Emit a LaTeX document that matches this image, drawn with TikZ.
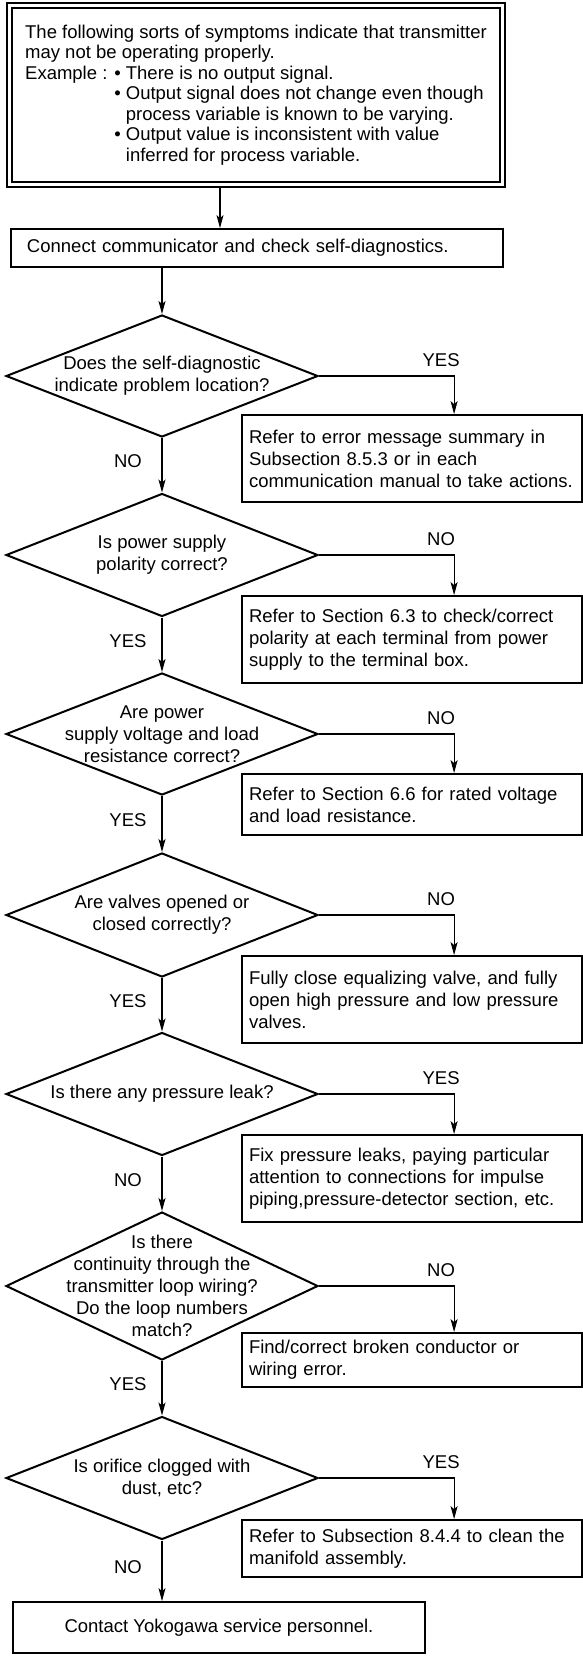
\documentclass[tikz,border=0pt]{standalone}
\usepackage{fontspec}
\setmainfont{Liberation Sans}
\usepackage{tikz}
\usetikzlibrary{arrows.meta,shapes.geometric}

\begin{document}
\begin{tikzpicture}[
  x=1pt, y=-1pt,
  font=\fontsize{18.5}{22}\selectfont,
  diabox/.style={draw, diamond, line width=2pt, minimum width=312pt, minimum height=#1, inner sep=0pt},
  diatext/.style={align=center, inner sep=0pt},
  actbox/.style={draw, line width=1.8pt, text width=326pt, inner xsep=7pt, inner ysep=0pt, align=left, minimum height=#1},
  flow/.style={-{Stealth[length=13pt,width=7pt,inset=3pt]}, line width=1.1pt},
  lbl/.style={inner sep=0pt}
]
\useasboundingbox (0,0) rectangle (583,1658);

\node[draw, double, double distance=3.2pt, line width=1.8pt, minimum width=492.4pt, minimum height=179.2pt,
  inner sep=0pt, align=left, font=\fontsize{18.5}{20.5}\selectfont] (symp) at (256,95)
 {The following sorts of symptoms indicate that transmitter\\
  may not be operating properly.\\
  Example : • There is no output signal.\\
  \phantom{Example : }• Output signal does not change even though\\
  \phantom{Example : • }process variable is known to be varying.\\
  \phantom{Example : }• Output value is inconsistent with value\\
  \phantom{Example : • }inferred for process variable.};
\node[draw, line width=1.8pt, minimum width=492pt, minimum height=38pt, text width=460pt, inner xsep=16pt,
  inner ysep=0pt, align=left] (conn) at (257,248) {Connect communicator and check self-diagnostics.};

\node[diabox=122pt] (d1) at (162,376) {};
\node[diatext] (q1) at (d1) {Does the self-diagnostic\\indicate problem location?};
\node[diabox=123pt] (d2) at (162,555) {};
\node[diatext] (q2) at (d2) {Is power supply\\polarity correct?};
\node[diabox=122pt] (d3) at (162,734) {};
\node[diatext] (q3) at (d3) {Are power\\supply voltage and load\\resistance correct?};
\node[diabox=124pt] (d4) at (162,915) {};
\node[diatext] (q4) at (d4) {Are valves opened or\\closed correctly?};
\node[diabox=123pt] (d5) at (162,1094) {};
\node[diatext] (q5) at (d5) {Is there any pressure leak?};
\node[diabox=148pt] (d6) at (162,1286) {};
\node[diatext] (q6) at (d6) {Is there\\continuity through the\\transmitter loop wiring?\\Do the loop numbers\\match?};
\node[diabox=123pt] (d7) at (162,1478) {};
\node[diatext] (q7) at (d7) {Is orifice clogged with\\dust, etc?};

\node[actbox=87pt] (b1) at (412,458.5) {Refer to error message summary in\\Subsection 8.5.3 or in each\\communication manual to take actions.};
\node[actbox=87pt] (b2) at (412,639.5) {Refer to Section 6.3 to check/correct\\polarity at each terminal from power\\supply to the terminal box.};
\node[actbox=61pt] (b3) at (412,804.5) {Refer to Section 6.6 for rated voltage\\and load resistance.};
\node[actbox=87pt] (b4) at (412,999.5) {Fully close equalizing valve, and fully\\open high pressure and low pressure\\valves.};
\node[actbox=87pt] (b5) at (412,1178.5) {Fix pressure leaks, paying particular\\attention to connections for impulse\\piping,pressure-detector section, etc.};
\node[actbox=54pt] (b6) at (412,1360) {Find/correct broken conductor or\\wiring error.};
\node[actbox=57pt] (b7) at (412,1548.5) {Refer to Subsection 8.4.4 to clean the\\manifold assembly.};

\node[draw, line width=1.8pt, minimum width=412pt, minimum height=51pt] (cont) at (219,1627.5)
 {Contact Yokogawa service personnel.};

\coordinate (tj) at ([xshift=-36pt]symp.south);
\draw[flow] (tj) -- (tj |- conn.north);
\draw[flow] (d1.north |- conn.south) -- (d1.north);

\foreach \i/\ans in {1/YES,2/NO,3/NO,4/NO,5/YES,6/NO,7/YES}
  \draw[flow] (d\i.east) -| node[lbl, pos=0.5, xshift=-13pt, yshift=16pt] (r\i) {\ans} ([xshift=213pt]b\i.north west);

\foreach \i/\j/\ans in {1/2/NO,2/3/YES,3/4/YES,4/5/YES,5/6/NO,6/7/YES}
  \draw[flow] (d\i) -- node[lbl, xshift=-34pt, yshift=4pt] (l\i) {\ans} (d\j);
\draw[flow] (d7.south) -- node[lbl, xshift=-34pt, yshift=4pt] (l7) {NO} (d7.south |- cont.north);
\end{tikzpicture}
\end{document}
